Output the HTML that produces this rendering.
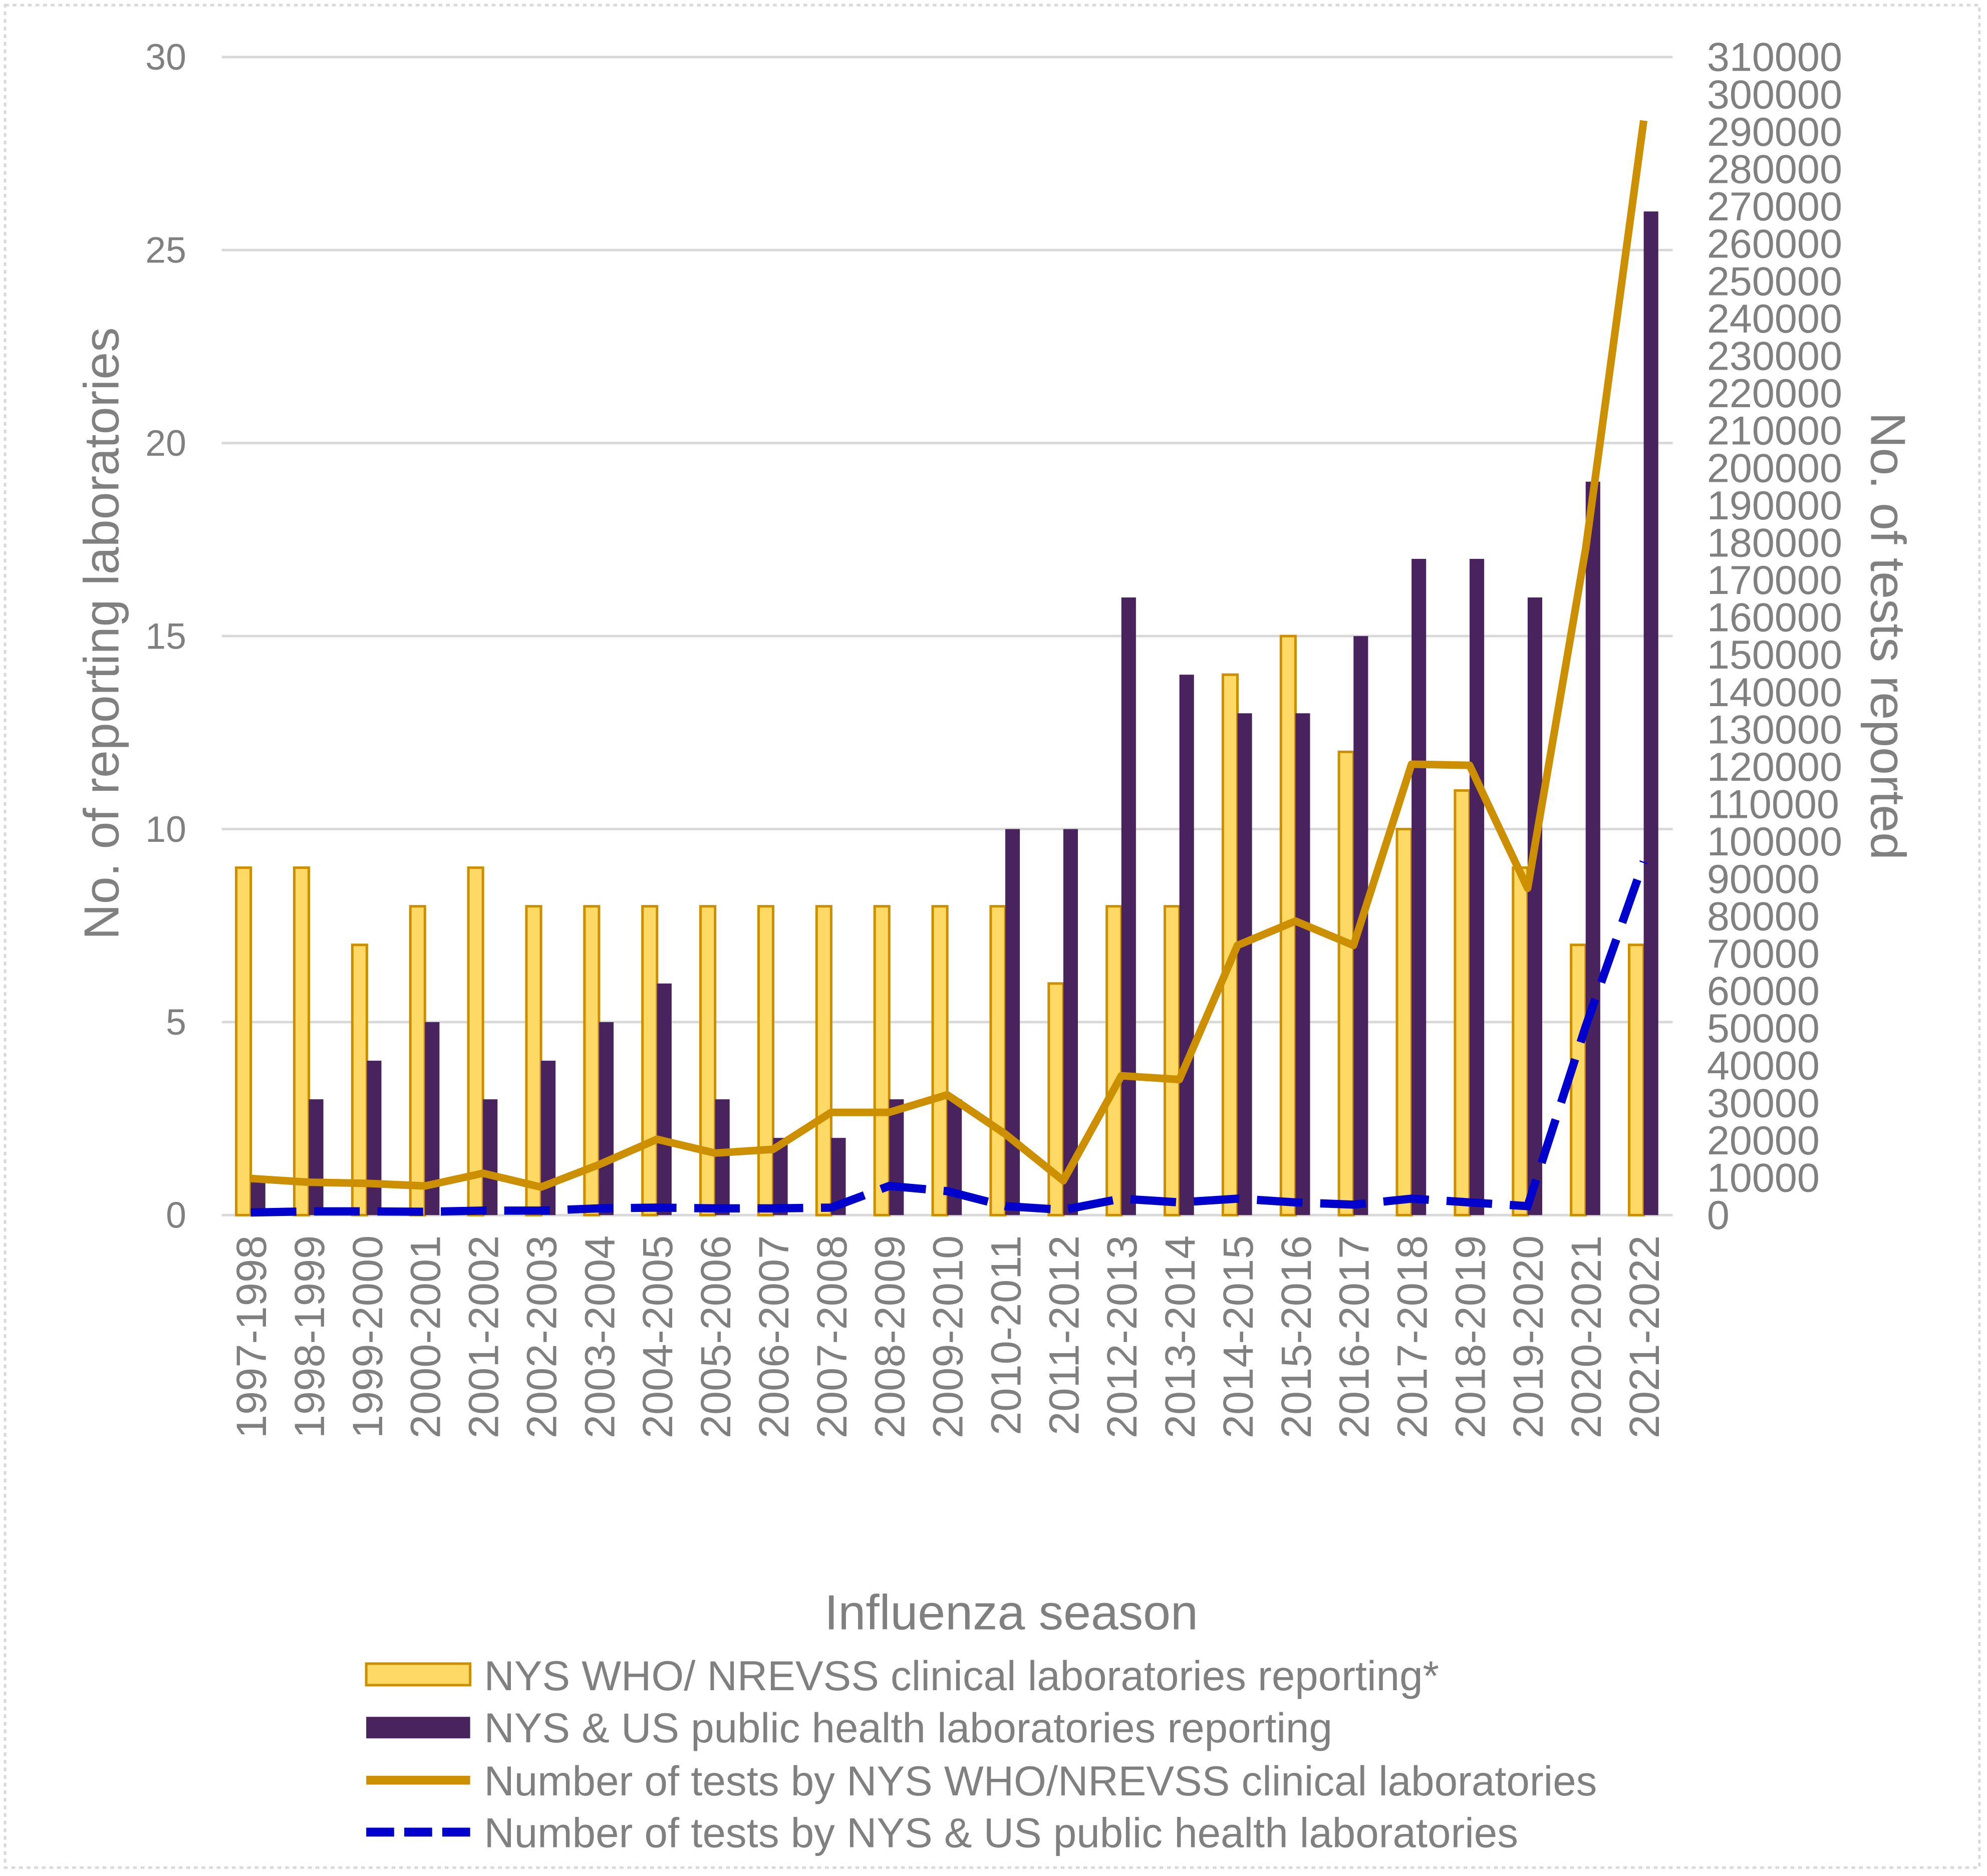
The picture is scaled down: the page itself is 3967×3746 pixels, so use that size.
<!DOCTYPE html>
<html><head><meta charset="utf-8"><style>
html,body{margin:0;padding:0;background:#fff;}
svg{display:block;}
text{font-family:"Liberation Sans",sans-serif;fill:#808080;}
</style></head><body>
<svg id="chart" width="3967" height="3746" viewBox="0 0 1568 1480.6" xmlns="http://www.w3.org/2000/svg">
<rect x="4" y="4" width="1558" height="1470" fill="none" stroke="#d9d9d9" stroke-width="2" stroke-dasharray="3,3"/>
<g id="grid"></g><g id="bars"></g><g id="lines"></g><g id="axes"></g>
<text x="80" y="500" font-size="39" text-anchor="middle" dominant-baseline="central" transform="rotate(-90 80 500)">No. of reporting  laboratories</text>
<text x="1490" y="502" font-size="39" text-anchor="middle" dominant-baseline="central" transform="rotate(90 1490 502)">No. of tests reported</text>
<text x="798" y="1286" font-size="39" text-anchor="middle">Influenza season</text>
<g>
<g><rect x="289" y="1313" width="82" height="17" fill="#FFD966" stroke="#CC8F00" stroke-width="2"/><text x="382" y="1334" font-size="33">NYS WHO/ NREVSS clinical laboratories reporting*</text></g>
<g><rect x="289" y="1355" width="82" height="17" fill="#48235D"/><text x="382" y="1375" font-size="33">NYS &amp; US public health laboratories reporting</text></g>
<g><line x1="289" y1="1405" x2="371" y2="1405" stroke="#CC8F00" stroke-width="7"/><text x="382" y="1417" font-size="33">Number of tests by NYS WHO/NREVSS clinical laboratories</text></g>
<g><line x1="289" y1="1446" x2="371" y2="1446" stroke="#0000CC" stroke-width="7" stroke-dasharray="22,8"/><text x="382" y="1458" font-size="33">Number of tests by NYS &amp; US public health laboratories</text></g>
</g>
</svg>
<script>
const categories=["1997-1998","1998-1999","1999-2000","2000-2001","2001-2002","2002-2003","2003-2004","2004-2005","2005-2006","2006-2007","2007-2008","2008-2009","2009-2010","2010-2011","2011-2012","2012-2013","2013-2014","2014-2015","2015-2016","2016-2017","2017-2018","2018-2019","2019-2020","2020-2021","2021-2022"];
const clinicalLabs=[9,9,7,8,9,8,8,8,8,8,8,8,8,8,6,8,8,14,15,12,10,11,9,7,7];
const publicLabs=[1,3,4,5,3,4,5,6,3,2,2,3,3,10,10,16,14,13,13,15,17,17,16,19,26];
const clinicalTests=[9800,8800,8500,7800,11200,7500,13500,20300,16600,17600,27500,27500,32200,21700,9200,37300,36300,72200,78700,72200,120700,120400,87500,178400,293000];
const publicTests=[700,1000,1000,900,1200,1200,1800,2000,1800,1800,2000,7800,6400,2400,1400,4400,3400,4400,3400,2800,4400,3400,2400,50500,94600];
const leftTicks=[0,5,10,15,20,25,30];
const rightTicks=[];for(let v=0;v<=310000;v+=10000)rightTicks.push(v);

const NS="http://www.w3.org/2000/svg";
const X0=175,X1=1320,Y0=959,Y1=45;
const slot=(X1-X0)/categories.length;
const xc=i=>X0+slot*(i+0.5);
const yL=v=>Y0-(v/30)*(Y0-Y1);
const yR=v=>Y0-(v/310000)*(Y0-Y1);
function mk(tag,attrs,parent){const e=document.createElementNS(NS,tag);for(const k in attrs)e.setAttribute(k,attrs[k]);parent.appendChild(e);return e;}
const grid=document.getElementById('grid'),bars=document.getElementById('bars'),lines=document.getElementById('lines'),axes=document.getElementById('axes');
leftTicks.forEach(v=>{
  const g=mk('line',{x1:X0,x2:X1,y1:yL(v),y2:yL(v),stroke:'#d9d9d9','stroke-width':2},grid);
  
  
  const t=mk('text',{x:147,y:yL(v)+10,'font-size':29,'text-anchor':'end'},axes);t.textContent=v;
  
  
});
rightTicks.forEach(v=>{
  const t=mk('text',{x:1347,y:yR(v)+11,'font-size':32},axes);t.textContent=v;
  
  
});
const bw=11.5;
categories.forEach((c,i)=>{
  const x=xc(i);
  const a=mk('rect',{x:x-bw,y:yL(clinicalLabs[i]),width:bw,height:Y0-yL(clinicalLabs[i]),fill:'#FFD966',stroke:'#CC8F00','stroke-width':2},bars);
  
  
  const b=mk('rect',{x:x,y:yL(publicLabs[i]),width:bw,height:Y0-yL(publicLabs[i]),fill:'#48235D'},bars);
  
  
  const t=mk('text',{x:0,y:0,'font-size':33.5,'text-anchor':'end',transform:`translate(${x+12},${975}) rotate(-90)`},axes);t.textContent=c;
  
  
});
const p1=mk('polyline',{points:clinicalTests.map((v,i)=>xc(i)+','+yR(v)).join(' '),fill:'none',stroke:'#CC8F00','stroke-width':6,'stroke-linejoin':'round'},lines);


const p2=mk('polyline',{points:publicTests.map((v,i)=>xc(i)+','+yR(v)).join(' '),fill:'none',stroke:'#0000CC','stroke-width':6.5,'stroke-dasharray':'36,14'},lines);


</script>
</body></html>
